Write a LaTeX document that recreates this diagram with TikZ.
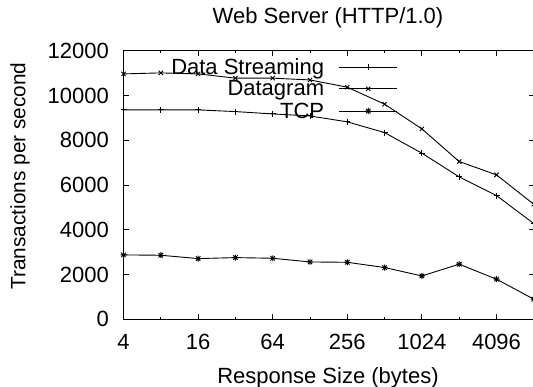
\documentclass[tikz,border=0pt]{standalone}
\usepackage{fontspec}
\setmainfont{Liberation Sans}
\pgfdeclareplotmark{gpstar}{%
  \pgfpathmoveto{\pgfqpoint{-\pgfplotmarksize}{0pt}}%
  \pgfpathlineto{\pgfqpoint{\pgfplotmarksize}{0pt}}%
  \pgfpathmoveto{\pgfqpoint{0pt}{-\pgfplotmarksize}}%
  \pgfpathlineto{\pgfqpoint{0pt}{\pgfplotmarksize}}%
  \pgfpathmoveto{\pgfqpoint{-.75\pgfplotmarksize}{-.75\pgfplotmarksize}}%
  \pgfpathlineto{\pgfqpoint{.75\pgfplotmarksize}{.75\pgfplotmarksize}}%
  \pgfpathmoveto{\pgfqpoint{-.75\pgfplotmarksize}{.75\pgfplotmarksize}}%
  \pgfpathlineto{\pgfqpoint{.75\pgfplotmarksize}{-.75\pgfplotmarksize}}%
  \pgfusepathqstroke}
\tikzset{
  txt/.style={inner sep=0pt, font=\fontsize{22}{26}\selectfont},
  frame/.style={line width=1.2pt},
  tickline/.style={line width=1pt},
  dataline/.style={line width=0.9pt, black, mark size=3pt, mark options={solid, line width=0.9pt}},
}
\begin{document}
\begin{tikzpicture}[x=1pt,y=1pt]
\useasboundingbox (0,0) rectangle (533,387);
\node[txt, anchor=base] (title) at (328,363.7) {Web Server (HTTP/1.0)};
\node[txt, anchor=base] (xlab) at (328,3.7) {Response Size (bytes)};
\node[txt, anchor=base, rotate=90, font=\fontsize{20.8}{24}\selectfont] (ylab) at (25.3,211) {Transactions per second};
\begin{scope}[shift={(123.5,67.8)}, x=37.3pt, y=22.36pt]
  % frame
  \draw[frame] (0,0) rectangle (11,12);
  % x ticks
  \foreach \i in {0,2,...,10} {
    \draw[tickline] (\i,0) -- ++(0,5.5pt);
    \draw[tickline] (\i,12) -- ++(0,-5.5pt);
  }
  \foreach \i in {1,3,...,11} {
    \draw[tickline] (\i,0) -- ++(0,2.5pt);
    \draw[tickline] (\i,12) -- ++(0,-2.5pt);
  }
  \foreach \i/\lab in {0/4,2/16,4/64,6/256,8/1024,10/4096} {
    \node[txt, anchor=base] (xt\i) at ([yshift=-30.1pt]\i,0) {\lab};
  }
  % y ticks
  \foreach \v/\lab in {0/0,2/2000,4/4000,6/6000,8/8000,10/10000,12/12000} {
    \draw[tickline] (0,\v) -- ++(5pt,0);
    \draw[tickline] (11,\v) -- ++(-5pt,0);
    \node[txt, anchor=east] (yt\v) at ([xshift=-14.5pt]0,\v) {\lab};
  }
  % data
  \draw[dataline] plot[mark=x] coordinates {
    (0,10.97) (1,11.015) (2,10.97) (3,10.78) (4,10.78) (5,10.70)
    (6,10.375) (7,9.615) (8,8.51) (9,7.05) (10,6.455) (11,5.14)};
  \draw[dataline] plot[mark=+] coordinates {
    (0,9.36) (1,9.36) (2,9.36) (3,9.285) (4,9.18) (5,9.09)
    (6,8.825) (7,8.345) (8,7.425) (9,6.365) (10,5.53) (11,4.275)};
  \draw[dataline] plot[mark=gpstar] coordinates {
    (0,2.875) (1,2.86) (2,2.71) (3,2.755) (4,2.725) (5,2.56)
    (6,2.545) (7,2.31) (8,1.935) (9,2.46) (10,1.79) (11,0.895)};
\end{scope}
% legend
\node[txt, anchor=base east] (l1) at (324.3,312.4) {Data Streaming};
\node[txt, anchor=base east] (l2) at (324.3,291) {Datagram};
\node[txt, anchor=base east] (l3) at (324.3,268.7) {TCP};
\coordinate (s1a) at (339,319.7); \coordinate (s1b) at (397.3,319.7);
\coordinate (s2a) at (339,298.3); \coordinate (s2b) at (397.3,298.3);
\coordinate (s3a) at (339,276);   \coordinate (s3b) at (397.3,276);
\draw[dataline] (s1a) -- (s1b);
\draw[dataline] (s2a) -- (s2b);
\draw[dataline] (s3a) -- (s3b);
\draw[dataline] plot[mark=+] coordinates {(368.3,319.7)};
\draw[dataline] plot[mark=x] coordinates {(368.3,298.3)};
\draw[dataline] plot[mark=gpstar] coordinates {(368.3,276)};
\end{tikzpicture}
\end{document}
